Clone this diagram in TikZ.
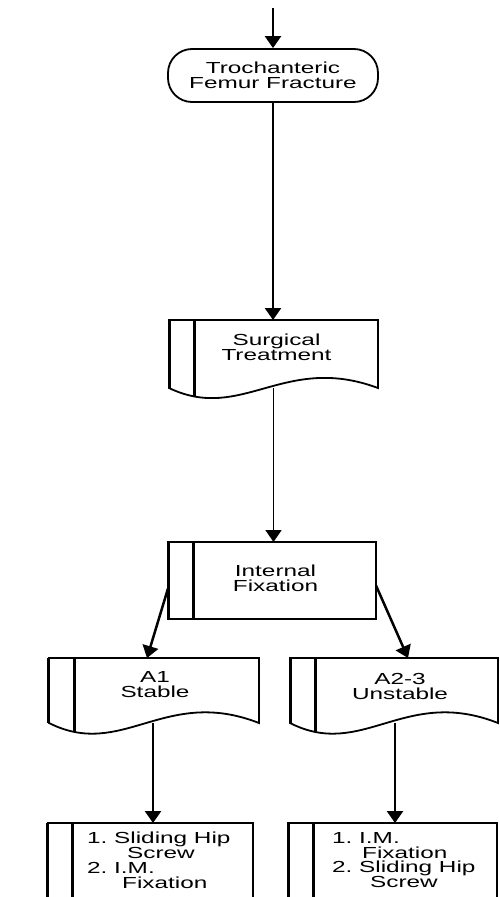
\documentclass[tikz,border=0pt]{standalone}
\usepackage{fontspec}
\setmainfont{Liberation Sans}[FakeStretch=1.52]
\usetikzlibrary{arrows.meta,calc}

\tikzset{
  frame/.style={draw=none, rectangle, inner sep=0pt, outer sep=0pt},
  boxtext/.style={inner sep=0pt, align=center, font=\fontsize{16bp}{15bp}\selectfont},
  listtext/.style={inner sep=0pt, align=left, anchor=north west, font=\fontsize{16bp}{14.8bp}\selectfont},
  edgeline/.style={line width=1.8bp},
  barline/.style={line width=3bp},
  flow/.style={line width=2.5bp, -{Triangle[width=16bp,length=12bp]}},
  thinflow/.style={line width=1.8bp, -{Triangle[width=16bp,length=12bp]}},
  term/.style={draw, line width=1.8bp, rounded corners=24bp, minimum width=210bp,
    minimum height=53bp, inner sep=0pt, align=center, font=\fontsize{16bp}{15bp}\selectfont}
}

% document symbol: flat top, wavy bottom, double bar on the left
\newcommand\docframe[2]{%
  \draw[edgeline] (#1.north west) -- (#1.north east) -- (#1.south east)
    .. controls ($(#1.south west)!0.55!(#1.south east)+(0,-#2)$)
            and ($(#1.south west)!0.35!(#1.south east)+(0,#2)$) .. (#1.south west)
    coordinate[pos=0.88] (#1-bar) -- cycle;
  \draw[barline] (#1.north west) -- (#1.south west);
  \draw[barline] (#1-bar |- #1.north) -- (#1-bar);
}
% process with a bar on the left
\newcommand\procframe[1]{%
  \draw[edgeline] (#1.north west) rectangle (#1.south east);
  \draw[barline] (#1.north west) -- (#1.south west);
  \draw[barline] ($(#1.north west)+(25,0)$) -- ($(#1.south west)+(25,0)$);
}
% process box running past the lower edge
\newcommand\openframe[1]{%
  \draw[edgeline] (#1.south west) -- (#1.north west) -- (#1.north east) -- (#1.south east);
  \draw[barline] (#1.north west) -- (#1.south west);
  \draw[barline] ($(#1.north west)+(25,0)$) -- ($(#1.south west)+(25,0)$);
}

\begin{document}
\begin{tikzpicture}[x=1bp, y=-1bp]
  \path[use as bounding box] (0,0) rectangle (500,897);
  \clip (0,0) rectangle (500,897);

  % nodes
  \node[term] (troch) at (273,75.5) {Trochanteric\\Femur Fracture};

  \node[frame, minimum width=209bp, minimum height=68bp] (surg) at (273.5,354) {};
  \node[boxtext] (surgT) at (276.5,347.5) {Surgical\\Treatment};

  \node[frame, minimum width=208bp, minimum height=77bp] (intfix) at (272,580.5) {};
  \node[boxtext] (intT) at (275.5,578.5) {Internal\\Fixation};

  \node[frame, minimum width=210bp, minimum height=65bp] (a1) at (154,690.5) {};
  \node[boxtext] (a1T) at (155,685) {A1\\Stable};

  \node[frame, minimum width=208bp, minimum height=65bp] (a23) at (394,690.5) {};
  \node[boxtext] (a23T) at (400,686) {A2-3\\Unstable};

  \node[frame, minimum width=205bp, minimum height=114bp] (bl) at (150.5,880) {};
  \node[listtext] (blT) at (87,832)
    {1.\ Sliding Hip\\\hspace*{40bp}Screw\\2.\ I.M.\\\hspace*{35bp}Fixation};

  \node[frame, minimum width=209bp, minimum height=114bp] (br) at (392.5,880) {};
  \node[listtext] (brT) at (332,832)
    {1.\ I.M.\\\hspace*{30bp}Fixation\\2.\ Sliding Hip\\\hspace*{38bp}Screw};

  % outlines
  \docframe{surg}{35}
  \procframe{intfix}
  \docframe{a1}{37}
  \docframe{a23}{37}
  \openframe{bl}
  \openframe{br}

  % connectors
  \coordinate (entry) at (273,8);
  \draw[flow] (entry) -- (troch.north);
  \draw[flow] (troch.south) -- (troch.south |- surg.north);
  \draw[thinflow] (surg.south) -- (surg.south |- intfix.north);
  \draw[flow] ([yshift=-8bp]intfix.west) -- ([xshift=-7bp]a1.north);
  \draw[flow] ([yshift=-5bp]intfix.east) -- ([xshift=14bp]a23.north);
  \draw[flow] ([xshift=-1bp]a1.south) -- ([xshift=-1bp]a1.south |- bl.north);
  \draw[flow] ([xshift=1bp]a23.south) -- ([xshift=1bp]a23.south |- br.north);
\end{tikzpicture}
\end{document}
